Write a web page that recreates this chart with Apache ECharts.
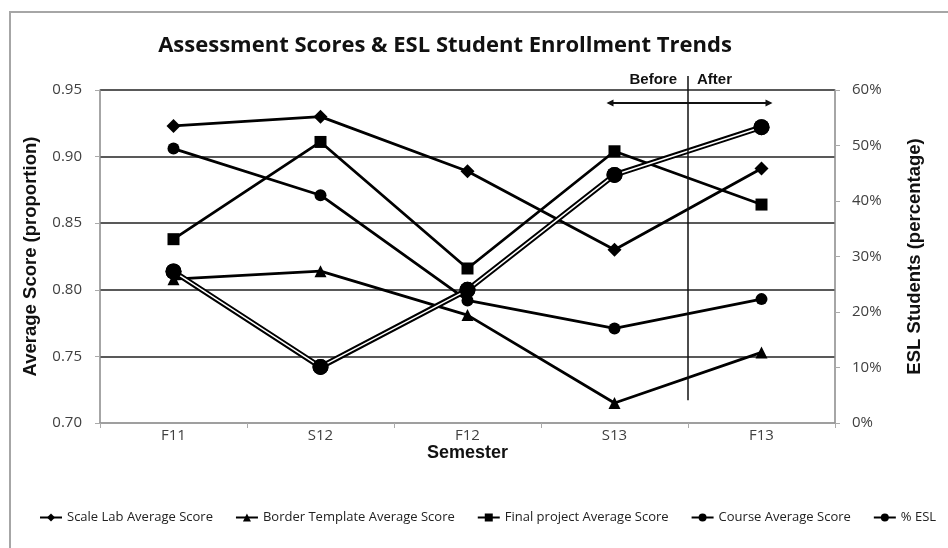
<!DOCTYPE html>
<html>
<head>
<meta charset="utf-8">
<script src="https://cdn.jsdelivr.net/npm/echarts@6/dist/echarts.min.js"></script>
<style>
  html, body { margin: 0; padding: 0; background: #fff; }
  #chart { width: 948px; height: 548px; }
</style>
</head>
<body>
<div id="chart"></div>
<script>
// Semesters along the x axis
const semesters = ['F11', 'S12', 'F12', 'S13', 'F13'];

// Average assessment scores (proportion, left axis)
const scaleLabScores = [0.923, 0.930, 0.889, 0.830, 0.891];
const borderTemplateScores = [0.808, 0.814, 0.781, 0.715, 0.753];
const finalProjectScores = [0.838, 0.911, 0.816, 0.904, 0.864];
const courseAverageScores = [0.906, 0.871, 0.792, 0.771, 0.793];

// Share of ESL students (percent, right axis)
const eslPercent = [27.3, 10.1, 24.0, 44.7, 53.3];

// Axis tick settings
const scoreTicks = { min: 0.70, max: 0.95, step: 0.05 };
const percentTicks = { min: 0, max: 60, step: 10 };

const seriesNames = [
  'Scale Lab Average Score',
  'Border Template Average Score',
  'Final project Average Score',
  'Course Average Score',
  '% ESL'
];

const tickFont = 'Open Sans';
const titleFont = 'Liberation Sans';

const chart = echarts.init(document.getElementById('chart'));

const scoreLine = (name, data, symbol, size) => ({
  name: name,
  type: 'line',
  data: data,
  yAxisIndex: 0,
  symbol: symbol,
  symbolSize: size,
  lineStyle: { color: '#000', width: 2.8 },
  itemStyle: { color: '#000' },
  z: 3
});

const option = {
  animation: false,
  backgroundColor: '#fff',
  title: {
    text: 'Assessment Scores & ESL Student Enrollment Trends',
    left: 440,
    top: 30,
    textAlign: 'center',
    textStyle: { fontFamily: 'Open Sans', fontWeight: 'bold', fontSize: 22, color: '#111' }
  },
  grid: { left: 100, right: 113, top: 90, bottom: 125 },
  legend: {
    data: seriesNames,
    bottom: 19,
    left: 34,
    itemGap: 22,
    itemWidth: 22,
    itemHeight: 10,
    textStyle: { fontFamily: 'Open Sans', fontSize: 13, color: '#222' }
  },
  xAxis: {
    type: 'category',
    data: semesters,
    boundaryGap: true,
    name: 'Semester',
    nameLocation: 'middle',
    nameGap: 21,
    nameMoveOverlap: false,
    nameTextStyle: { fontFamily: titleFont, fontWeight: 'bold', fontSize: 18, color: '#111' },
    axisLine: { lineStyle: { color: '#999', width: 1.5 } },
    axisTick: { show: true, alignWithLabel: false, length: 5, lineStyle: { color: '#aaa' } },
    axisLabel: { fontFamily: tickFont, fontSize: 15, color: '#404040', margin: 5 }
  },
  yAxis: [
    {
      type: 'value',
      min: scoreTicks.min,
      max: scoreTicks.max,
      interval: scoreTicks.step,
      name: 'Average Score (proportion)',
      nameLocation: 'middle',
      nameRotate: 90,
      nameGap: 60,
      nameMoveOverlap: false,
      nameTextStyle: { fontFamily: titleFont, fontWeight: 'bold', fontSize: 18.5, color: '#111' },
      axisLine: { show: true, lineStyle: { color: '#888', width: 1.5 } },
      axisTick: { show: true, length: 5, lineStyle: { color: '#aaa' } },
      axisLabel: {
        fontFamily: tickFont, fontSize: 15, color: '#404040', margin: 18,
        formatter: v => v.toFixed(2)
      },
      splitLine: {
        show: true,
        lineStyle: { color: ['#999', '#222', '#222', '#222', '#222', '#222'], width: 1.6 }
      }
    },
    {
      type: 'value',
      min: percentTicks.min,
      max: percentTicks.max,
      interval: percentTicks.step,
      name: 'ESL Students (percentage)',
      nameLocation: 'middle',
      nameRotate: 90,
      nameGap: 70,
      nameMoveOverlap: false,
      nameTextStyle: { fontFamily: titleFont, fontWeight: 'bold', fontSize: 18.5, color: '#111' },
      axisLine: { show: true, lineStyle: { color: '#888', width: 1.5 } },
      axisTick: { show: true, length: 5, lineStyle: { color: '#aaa' } },
      axisLabel: {
        fontFamily: tickFont, fontSize: 15, color: '#404040', margin: 17,
        formatter: '{value}%'
      },
      splitLine: { show: false }
    }
  ],
  series: [
    scoreLine(seriesNames[0], scaleLabScores, 'diamond', 14),
    scoreLine(seriesNames[1], borderTemplateScores, 'triangle', 12),
    scoreLine(seriesNames[2], finalProjectScores, 'rect', 12),
    scoreLine(seriesNames[3], courseAverageScores, 'circle', 12),
    {
      // outer dark stroke of the double line
      name: seriesNames[4],
      type: 'line',
      data: eslPercent,
      yAxisIndex: 1,
      symbol: 'circle',
      symbolSize: 16,
      lineStyle: { color: '#000', width: 5.5 },
      itemStyle: { color: '#000' },
      z: 4
    },
    {
      // white core of the double line, markers drawn on top
      name: seriesNames[4],
      type: 'line',
      data: eslPercent,
      yAxisIndex: 1,
      symbol: 'circle',
      symbolSize: 16,
      lineStyle: { color: '#fff', width: 1.5 },
      itemStyle: { color: '#000' },
      z: 5
    }
  ]
};

chart.setOption(option);

// Before / After divider between the last two semesters
const xS13 = chart.convertToPixel({ xAxisIndex: 0 }, 'S13');
const xF13 = chart.convertToPixel({ xAxisIndex: 0 }, 'F13');
const divX = (xS13 + xF13) / 2;
const plotTop = chart.convertToPixel({ yAxisIndex: 0 }, scoreTicks.max);
const divBottom = chart.convertToPixel({ yAxisIndex: 0 }, 0.717);
const arrowY = plotTop + 13;
const arrowL = xS13 - 6;
const arrowR = xF13 + 9;

chart.setOption({
  graphic: [
    {
      type: 'rect',
      shape: { x: 10, y: 12, width: 960, height: 560 },
      style: { fill: 'none', stroke: '#a6a6a6', lineWidth: 2 },
      silent: true
    },
    {
      type: 'line',
      shape: { x1: divX, y1: plotTop - 14, x2: divX, y2: divBottom },
      style: { stroke: '#111', lineWidth: 1.5 },
      z: 10
    },
    {
      type: 'line',
      shape: { x1: arrowL, y1: arrowY, x2: arrowR, y2: arrowY },
      style: { stroke: '#111', lineWidth: 2 },
      z: 10
    },
    {
      type: 'polygon',
      shape: { points: [[arrowL - 2, arrowY], [arrowL + 5, arrowY - 3.5], [arrowL + 5, arrowY + 3.5]] },
      style: { fill: '#111' },
      z: 10
    },
    {
      type: 'polygon',
      shape: { points: [[arrowR + 2, arrowY], [arrowR - 5, arrowY - 3.5], [arrowR - 5, arrowY + 3.5]] },
      style: { fill: '#111' },
      z: 10
    },
    {
      type: 'text',
      x: divX - 11,
      y: plotTop - 10,
      style: {
        text: 'Before', align: 'right', verticalAlign: 'middle',
        font: 'bold 15px "Liberation Sans"', fill: '#111'
      },
      z: 10
    },
    {
      type: 'text',
      x: divX + 9,
      y: plotTop - 10,
      style: {
        text: 'After', align: 'left', verticalAlign: 'middle',
        font: 'bold 15px "Liberation Sans"', fill: '#111'
      },
      z: 10
    }
  ]
});
</script>
</body>
</html>
